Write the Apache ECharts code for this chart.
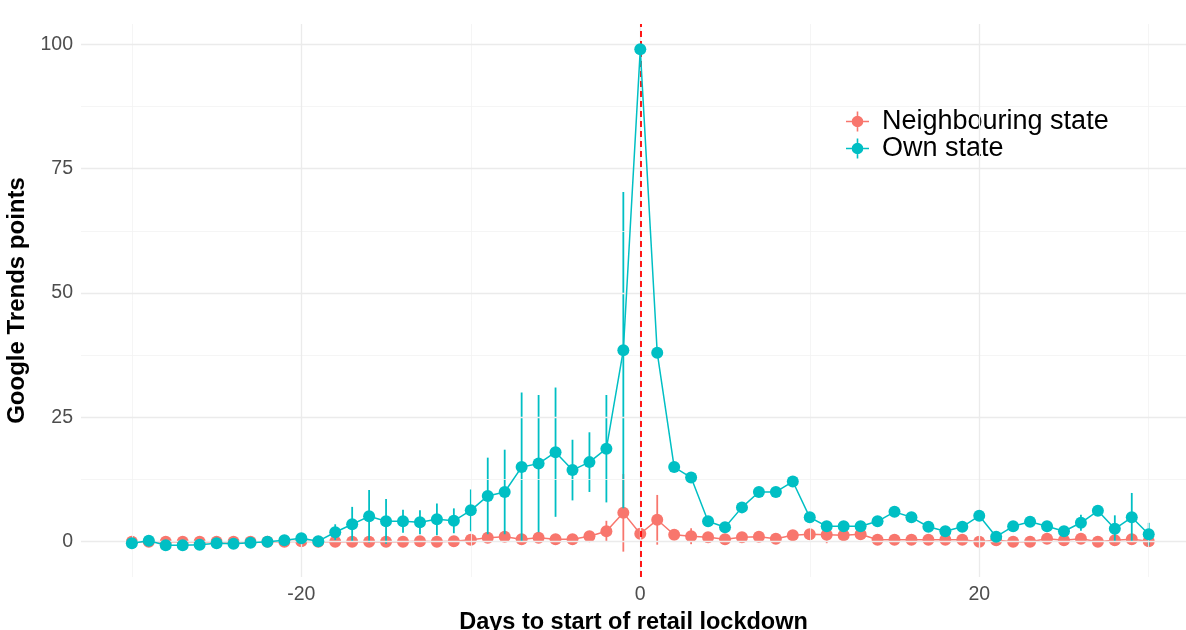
<!DOCTYPE html>
<html>
<head>
<meta charset="utf-8">
<script src="https://cdn.jsdelivr.net/npm/echarts@6/dist/echarts.min.js"></script>
<style>
  html, body { margin: 0; padding: 0; background: #ffffff; }
  #chart { width: 1186px; height: 630px; }
</style>
</head>
<body>
<div id="chart"></div>
<script>
// Days relative to the start of the retail lockdown
const days = [-30, -29, -28, -27, -26, -25, -24, -23, -22, -21, -20, -19, -18, -17, -16, -15,
  -14, -13, -12, -11, -10, -9, -8, -7, -6, -5, -4, -3, -2, -1, 0, 1, 2, 3, 4, 5, 6, 7, 8, 9,
  10, 11, 12, 13, 14, 15, 16, 17, 18, 19, 20, 21, 22, 23, 24, 25, 26, 27, 28, 29, 30];

// Own state: mean Google Trends points and error-bar half-widths
const ownMean = [-0.3, 0.2, -0.7, -0.7, -0.6, -0.3, -0.4, -0.2, 0.0, 0.3, 0.7, 0.1, 1.9, 3.5, 5.1, 4.1,
  4.1, 3.9, 4.5, 4.2, 6.3, 9.2, 10.0, 15.0, 15.7, 18.0, 14.4, 16.0, 18.7, 38.5, 99.0, 38.0, 15.0, 12.9, 4.1, 2.9,
  6.9, 10.0, 10.0, 12.1, 4.9, 3.1, 3.1, 3.1, 4.1, 6.0, 4.9, 3.0, 2.1, 3.0, 5.2, 1.0, 3.1, 4.0, 3.1, 2.1,
  3.8, 6.2, 2.6, 4.9, 1.5];
const ownErr = [0.3, 0.3, 0.3, 0.3, 0.3, 0.3, 0.3, 0.3, 0.3, 0.3, 0.3, 0.3, 1.6, 3.5, 5.3, 4.5,
  2.3, 2.4, 3.2, 2.5, 4.2, 7.7, 8.5, 15.0, 13.8, 13.0, 6.1, 6.0, 10.8, 31.8, 0.5, 0.5, 0.5, 0.5, 0.5, 0.5,
  0.5, 0.5, 0.5, 0.5, 0.5, 0.5, 0.5, 0.5, 0.5, 0.5, 0.5, 0.5, 0.5, 0.5, 0.5, 0.5, 0.5, 0.5, 0.5, 0.5,
  1.6, 0.5, 2.7, 4.9, 2.3];

// Neighbouring state: mean Google Trends points and error-bar half-widths
const neighMean = [0.0, 0.0, 0.0, 0.0, 0.0, 0.0, 0.0, 0.0, 0.0, 0.0, 0.1, 0.0, 0.0, 0.0, 0.0, 0.0,
  0.0, 0.1, 0.0, 0.1, 0.4, 0.8, 1.0, 0.5, 0.8, 0.5, 0.5, 1.1, 2.1, 5.8, 1.6, 4.4, 1.4, 1.1, 0.9, 0.5,
  0.9, 1.0, 0.6, 1.3, 1.5, 1.4, 1.3, 1.5, 0.4, 0.4, 0.4, 0.4, 0.4, 0.4, 0.0, 0.3, 0.0, 0.0, 0.6, 0.3,
  0.6, 0.0, 0.3, 0.5, 0.1];
const neighErr = [0.3, 0.3, 0.3, 0.3, 0.3, 0.3, 0.3, 0.3, 0.3, 0.3, 0.3, 0.3, 0.3, 0.3, 0.3, 0.3,
  0.3, 0.3, 0.3, 0.3, 0.3, 0.3, 0.3, 0.3, 0.3, 0.3, 0.3, 0.3, 2.1, 7.8, 0.3, 5.0, 0.3, 1.6, 0.3, 0.3,
  0.3, 0.3, 0.3, 0.3, 0.3, 1.7, 0.3, 0.3, 0.3, 0.3, 0.3, 0.3, 0.3, 0.3, 0.3, 0.3, 0.3, 0.3, 0.3, 0.3,
  0.3, 0.3, 0.3, 0.3, 0.3];

// Tick positions
const xMajorTicks = [-20, 0, 20];
const xMinorTicks = [-30, -10, 10, 30];
const yMajorTicks = [0, 25, 50, 75, 100];
const yMinorTicks = [12.5, 37.5, 62.5, 87.5];

const seriesNames = ['Neighbouring state', 'Own state'];
const COL_NEIGH = '#F8766D';
const COL_OWN = '#00BFC4';
const FONT = '"Liberation Sans", Arial, sans-serif';

const gridMajor = { color: '#EBEBEB', width: 1.3, type: 'solid' };
const gridMinor = { color: '#F3F3F3', width: 0.8, type: 'solid' };

function errorBars(means, errs) {
  return days.map((d, i) => [d, means[i] - errs[i], means[i] + errs[i]]);
}
function points(means) {
  return days.map((d, i) => [d, means[i]]);
}
function errorBarRenderer(color) {
  return function (params, api) {
    const p1 = api.coord([api.value(0), api.value(1)]);
    const p2 = api.coord([api.value(0), api.value(2)]);
    return {
      type: 'line',
      shape: { x1: p1[0], y1: p1[1], x2: p2[0], y2: p2[1] },
      style: { stroke: color, lineWidth: 1.8 }
    };
  };
}

// Legend key: point with crossing error bars
const keyIcon = 'path://M0,9.2h23v1.6H0z M10.7,0h1.6v20h-1.6z M5.7,10a5.8,5.8 0 1,1 11.6,0a5.8,5.8 0 1,1 -11.6,0z';

const chart = echarts.init(document.getElementById('chart'), null, { renderer: 'canvas' });

chart.setOption({
  animation: false,
  backgroundColor: '#ffffff',
  textStyle: { fontFamily: FONT },
  grid: { left: 81, right: 0, top: 24, bottom: 53, containLabel: false, outerBoundsMode: 'none' },
  legend: {
    orient: 'vertical',
    left: 841,
    top: 103,
    itemWidth: 23,
    itemHeight: 20,
    itemGap: 0,
    icon: keyIcon,
    data: seriesNames,
    textStyle: { fontSize: 27, color: '#000000', fontFamily: FONT, lineHeight: 27, padding: [0, 0, 0, 8] }
  },
  xAxis: {
    type: 'value',
    min: -33,
    max: 32.2,
    name: 'Days to start of retail lockdown',
    nameLocation: 'middle',
    nameGap: 34,
    nameTextStyle: { fontSize: 23.5, fontWeight: 'bold', color: '#000000', fontFamily: FONT },
    axisLine: { show: false },
    axisTick: { show: false },
    splitLine: { show: false },
    axisLabel: { customValues: xMajorTicks, fontSize: 19.5, color: '#4D4D4D', margin: 8, fontFamily: FONT }
  },
  yAxis: {
    type: 'value',
    min: -7.1,
    max: 104.1,
    name: 'Google Trends points',
    nameLocation: 'middle',
    nameGap: 41,
    nameTextStyle: { fontSize: 24, fontWeight: 'bold', color: '#000000', fontFamily: FONT },
    axisLine: { show: false },
    axisTick: { show: false },
    splitLine: { show: false },
    axisLabel: { customValues: yMajorTicks, fontSize: 19.5, color: '#4D4D4D', margin: 8, fontFamily: FONT }
  },
  series: [
    {
      // panel grid lines
      name: 'grid',
      type: 'line',
      data: [],
      z: 0,
      silent: true,
      markLine: {
        silent: true,
        symbol: 'none',
        label: { show: false },
        animation: false,
        data: [
          ...yMinorTicks.map(v => ({ yAxis: v, lineStyle: gridMinor })),
          ...xMinorTicks.map(v => ({ xAxis: v, lineStyle: gridMinor })),
          ...yMajorTicks.map(v => ({ yAxis: v, lineStyle: gridMajor })),
          ...xMajorTicks.map(v => ({ xAxis: v, lineStyle: gridMajor }))
        ]
      }
    },
    {
      // lockdown start marker
      name: 'lockdown',
      type: 'line',
      data: [],
      z: 1,
      silent: true,
      markLine: {
        silent: true,
        symbol: 'none',
        label: { show: false },
        animation: false,
        data: [{ xAxis: 0, lineStyle: { color: '#FF0000', width: 1.8, type: [6, 4] } }]
      }
    },
    {
      name: 'neighErr',
      type: 'custom',
      z: 2,
      silent: true,
      renderItem: errorBarRenderer(COL_NEIGH),
      encode: { x: 0, y: [1, 2] },
      data: errorBars(neighMean, neighErr)
    },
    {
      name: seriesNames[0],
      type: 'line',
      z: 3,
      data: points(neighMean),
      symbol: 'circle',
      symbolSize: 12,
      showAllSymbol: true,
      itemStyle: { color: COL_NEIGH },
      lineStyle: { color: COL_NEIGH, width: 1.5 }
    },
    {
      name: 'ownErr',
      type: 'custom',
      z: 4,
      silent: true,
      renderItem: errorBarRenderer(COL_OWN),
      encode: { x: 0, y: [1, 2] },
      data: errorBars(ownMean, ownErr)
    },
    {
      name: seriesNames[1],
      type: 'line',
      z: 5,
      data: points(ownMean),
      symbol: 'circle',
      symbolSize: 12,
      showAllSymbol: true,
      itemStyle: { color: COL_OWN },
      lineStyle: { color: COL_OWN, width: 1.5 }
    }
  ]
});
</script>
</body>
</html>
